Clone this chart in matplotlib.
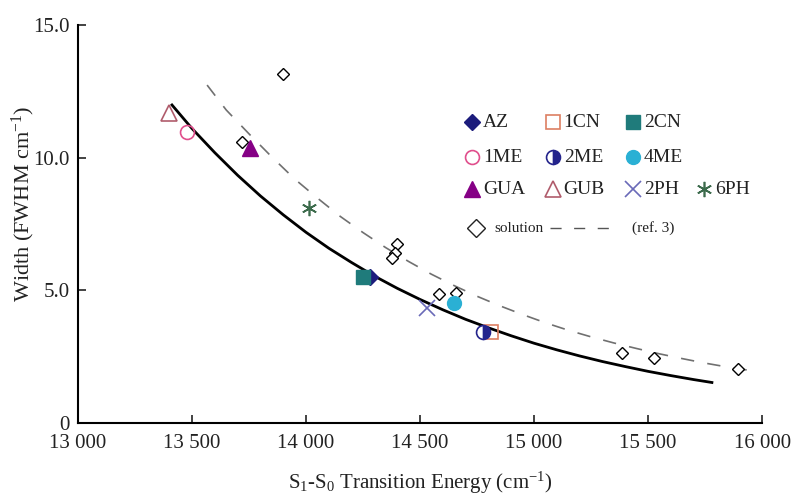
import matplotlib
matplotlib.use("Agg")
import matplotlib.pyplot as plt

plt.rcParams['font.family'] = ['Liberation Serif', 'DejaVu Serif']
plt.rcParams['mathtext.fontset'] = 'custom'
plt.rcParams['mathtext.rm'] = 'Liberation Serif'
plt.rcParams['mathtext.it'] = 'Liberation Serif:italic'

# measured compounds: energy (cm-1), width (FWHM cm-1)
names = ['AZ', '1CN', '2CN', '1ME', '2ME', '4ME', 'GUA', 'GUB', '2PH', '6PH']
energy = [14281, 14811, 14250, 13478, 14776, 14649, 13754, 13400, 14531, 14013]
width = [5.50, 3.43, 5.50, 10.97, 3.43, 4.52, 10.37, 11.68, 4.33, 8.10]

# solution values (ref. 3)
sol_energy = [13899, 13719, 14399, 14390, 14377, 14583, 14658, 15386, 15526, 15895]
sol_width = [13.15, 10.60, 6.76, 6.42, 6.23, 4.88, 4.92, 2.65, 2.46, 2.03]

# solid fit curve
fit_x = [13412, 13500, 13600, 13700, 13800, 13900, 14000, 14100, 14200, 14300,
         14400, 14500, 14600, 14700, 14800, 14900, 15000, 15100, 15200, 15300,
         15400, 15500, 15600, 15700, 15780]
fit_y = [11.99, 11.10, 10.19, 9.34, 8.56, 7.85, 7.19, 6.59, 6.05, 5.54,
         5.08, 4.66, 4.27, 3.91, 3.59, 3.29, 3.01, 2.76, 2.53, 2.32,
         2.13, 1.95, 1.79, 1.64, 1.53]

# dashed curve (ref. 3)
ref_x = [13566, 13650, 13750, 13850, 13950, 14050, 14150, 14250, 14350, 14450,
         14550, 14650, 14750, 14850, 14950, 15050, 15150, 15250, 15350, 15450,
         15550, 15650, 15750, 15850, 15950]
ref_y = [12.74, 11.80, 10.90, 10.03, 9.20, 8.48, 7.79, 7.18, 6.61, 6.09,
         5.61, 5.18, 4.78, 4.42, 4.09, 3.78, 3.50, 3.25, 3.02, 2.81,
         2.61, 2.43, 2.26, 2.11, 1.98]

styles = {
    'AZ':  dict(marker='D', color='#1c1c7c', mfc='#1c1c7c', ms=8),
    '1CN': dict(marker='s', color='#dd7f62', mfc='none', ms=10, mew=1.2),
    '2CN': dict(marker='s', color='#1f7b7b', mfc='#1f7b7b', ms=10),
    '1ME': dict(marker='o', color='#e04e8c', mfc='none', ms=10, mew=1.2),
    '2ME': dict(marker='o', color='#24248c', mfc='#24248c', mfcalt='white',
                fillstyle='right', ms=10, mew=1.2),
    '4ME': dict(marker='o', color='#2ab0d4', mfc='#2ab0d4', ms=10),
    'GUA': dict(marker='^', color='#850085', mfc='#850085', ms=11),
    'GUB': dict(marker='^', color='#b05c6c', mfc='none', ms=11, mew=1.2),
    '2PH': dict(marker='x', color='#6a6ab8', ms=11, mew=1.2),
    '6PH': dict(marker=(6, 2, 0), color='#3c6b4c', ms=11, mew=1.2),
}

fig = plt.figure(figsize=(7.93, 4.96), dpi=100)
ax = fig.add_axes([0.0984, 0.147, 0.8626, 0.8024])

ax.plot(ref_x, ref_y, color='#707070', lw=1.2, dashes=(8, 8), zorder=2)
ax.plot(fit_x, fit_y, color='black', lw=2.0, zorder=3)
ax.plot(sol_energy, sol_width, linestyle='none', marker='D', ms=6,
        mfc='white', mec='black', mew=1.0, zorder=4)
for n, e, w in zip(names, energy, width):
    ax.plot([e], [w], linestyle='none', zorder=5, **styles[n])

ax.set_xlim(13000, 16000)
ax.set_ylim(0, 15)
ax.set_xticks([13000, 13500, 14000, 14500, 15000, 15500, 16000])
ax.set_xticklabels(['13 000', '13 500', '14 000', '14 500', '15 000', '15 500', '16 000'])
ax.set_yticks([0, 5, 10, 15])
ax.set_yticklabels(['0', '5.0', '10.0', '15.0'])
for s in ['top', 'right']:
    ax.spines[s].set_visible(False)
for s in ['left', 'bottom']:
    ax.spines[s].set_linewidth(1.5)
ax.tick_params(direction='in', length=6, width=1.2, labelsize=15, colors='#222222')
ax.tick_params(axis='x', pad=8)
ax.tick_params(axis='y', pad=6)

ax.set_xlabel('S$_1$-S$_0$ Transition Energy (cm$^{-1}$)', fontsize=15,
              color='#222222', va='center')
ax.xaxis.set_label_coords(0.5, -0.15)
ax.set_ylabel('Width (FWHM cm$^{-1}$)', fontsize=16, color='#222222', va='center')
ax.yaxis.set_label_coords(-0.08, 0.55)

# hand-placed legend, axes fraction
col_x = [0.576, 0.694, 0.811, 0.915]
row_y = [0.756, 0.668, 0.588]
layout = [['AZ', '1CN', '2CN'], ['1ME', '2ME', '4ME'], ['GUA', 'GUB', '2PH', '6PH']]
for r, row in enumerate(layout):
    for c, n in enumerate(row):
        ax.plot([col_x[c]], [row_y[r]], transform=ax.transAxes, clip_on=False,
                linestyle='none', **styles[n])
        ax.text(col_x[c] + 0.016, row_y[r], n, transform=ax.transAxes,
                fontsize=14, va='center', ha='left', color='#222222')

ax.plot([0.582], [0.490], transform=ax.transAxes, linestyle='none', marker='D',
        ms=9, mfc='white', mec='#222222', mew=1.0, clip_on=False)
ax.text(0.609, 0.490, 'solution', transform=ax.transAxes, fontsize=11,
        va='center', ha='left', color='#222222')
ax.plot([0.690, 0.785], [0.490, 0.490], transform=ax.transAxes, color='#555555',
        lw=1.0, dashes=(8, 9))
ax.text(0.810, 0.490, '(ref. 3)', transform=ax.transAxes, fontsize=11,
        va='center', ha='left', color='#222222')

fig.savefig('out.png', dpi=100)
